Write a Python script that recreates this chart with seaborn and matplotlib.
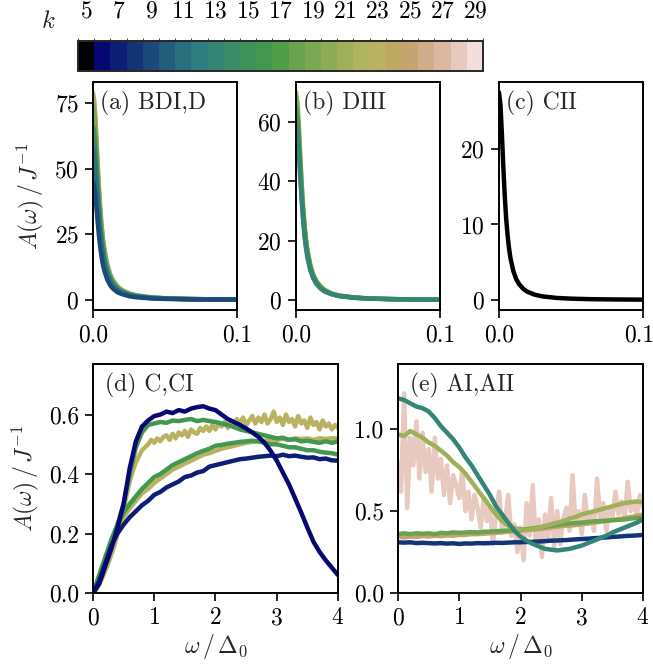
import numpy as np
import matplotlib
matplotlib.use("Agg")
import matplotlib.pyplot as plt
import matplotlib.transforms as mtrans
from matplotlib.colors import ListedColormap, BoundaryNorm
from matplotlib.cm import ScalarMappable
import seaborn as sns

# ---- data ----
k_values = list(range(5, 30))

# top row: small-omega peak, omega/Delta_0 from 0 to 0.1
x_top = [0, 0.001, 0.002, 0.003, 0.004, 0.005, 0.006, 0.007, 0.008, 0.010, 0.012,
         0.014, 0.017, 0.020, 0.025, 0.030, 0.040, 0.050, 0.065, 0.080, 0.100]

a_k25 = [79, 75.3, 66, 54.7, 44.2, 35.3, 28.4, 23.1, 19.0, 13.3, 9.7, 7.4, 5.2, 3.8, 2.5, 1.74, 0.99, 0.63, 0.38, 0.25, 0.16]
a_k21 = [77, 73.4, 64.3, 53.3, 43.0, 34.4, 27.7, 22.5, 18.5, 12.9, 9.5, 7.2, 5.0, 3.7, 2.4, 1.69, 0.96, 0.62, 0.37, 0.24, 0.16]
a_k19 = [74, 70.5, 61.8, 51.2, 41.4, 33.1, 26.6, 21.6, 17.8, 12.4, 9.1, 6.9, 4.8, 3.6, 2.3, 1.63, 0.93, 0.59, 0.35, 0.23, 0.15]
a_k15 = [66, 62.9, 55.1, 45.7, 36.9, 29.5, 23.8, 19.3, 15.8, 11.1, 8.1, 6.2, 4.3, 3.2, 2.1, 1.45, 0.83, 0.53, 0.31, 0.21, 0.13]
a_k13 = [61, 58.1, 50.9, 42.2, 34.1, 27.3, 22.0, 17.8, 14.6, 10.2, 7.5, 5.7, 4.0, 2.9, 1.9, 1.34, 0.76, 0.49, 0.29, 0.19, 0.12]
a_k11 = [57, 54.3, 47.6, 39.4, 31.9, 25.5, 20.5, 16.6, 13.7, 9.6, 7.0, 5.3, 3.7, 2.7, 1.8, 1.25, 0.71, 0.46, 0.27, 0.18, 0.12]
a_k9 = [45, 42.9, 37.6, 31.1, 25.2, 20.1, 16.2, 13.1, 10.8, 7.6, 5.5, 4.2, 2.9, 2.2, 1.4, 0.99, 0.56, 0.36, 0.21, 0.14, 0.09]

b_k21 = [70, 66.7, 58.5, 48.4, 39.1, 31.3, 25.2, 20.4, 16.8, 11.8, 8.6, 6.6, 4.6, 3.4, 2.2, 1.54, 0.88, 0.56, 0.33, 0.22, 0.14]
b_k19 = [68, 64.8, 56.8, 47.1, 38.0, 30.4, 24.5, 19.9, 16.3, 11.4, 8.4, 6.4, 4.5, 3.3, 2.1, 1.50, 0.85, 0.54, 0.32, 0.21, 0.14]
b_k17 = [65, 61.9, 54.3, 45.0, 36.3, 29.1, 23.4, 19.0, 15.6, 10.9, 8.0, 6.1, 4.3, 3.1, 2.0, 1.43, 0.81, 0.52, 0.31, 0.20, 0.13]
b_k15 = [62, 59.1, 51.8, 42.9, 34.7, 27.7, 22.3, 18.1, 14.9, 10.4, 7.6, 5.8, 4.1, 3.0, 1.9, 1.36, 0.78, 0.50, 0.30, 0.20, 0.13]
b_k13 = [59, 56.2, 49.3, 40.8, 33.0, 26.4, 21.2, 17.2, 14.2, 9.9, 7.3, 5.5, 3.9, 2.8, 1.9, 1.30, 0.74, 0.47, 0.28, 0.19, 0.12]

c_k5 = [27.5, 25.9, 22.0, 17.6, 13.75, 10.7, 8.5, 6.8, 5.5, 3.8, 2.75, 2.08, 1.44, 1.06, 0.69, 0.48, 0.27, 0.175, 0.10, 0.069, 0.044]

# bottom row: omega/Delta_0 from 0 to 4
x_bot = [round(0.1 * i, 2) for i in range(41)]
x_fine = [round(0.05 * i, 2) for i in range(81)]

d_k6 = [0.00, 0.03, 0.09, 0.15, 0.22, 0.30, 0.42, 0.51, 0.56, 0.58, 0.595, 0.60, 0.61, 0.605, 0.615,
        0.61, 0.62, 0.625, 0.628, 0.62, 0.615, 0.60, 0.585, 0.575, 0.565, 0.553, 0.54, 0.525, 0.505,
        0.478, 0.445, 0.405, 0.365, 0.318, 0.27, 0.22, 0.172, 0.138, 0.11, 0.085, 0.06]
d_k7 = [0.00, 0.04, 0.10, 0.16, 0.20, 0.23, 0.255, 0.275, 0.295, 0.31, 0.33, 0.34, 0.355, 0.365, 0.375,
        0.39, 0.395, 0.405, 0.41, 0.425, 0.43, 0.435, 0.44, 0.445, 0.45, 0.452, 0.455, 0.458, 0.46,
        0.462, 0.46, 0.465, 0.46, 0.462, 0.458, 0.455, 0.456, 0.45, 0.452, 0.446, 0.445]
d_k16 = [0.00, 0.05, 0.11, 0.17, 0.23, 0.30, 0.40, 0.49, 0.54, 0.565, 0.57, 0.575, 0.572, 0.58, 0.578,
         0.582, 0.585, 0.578, 0.582, 0.578, 0.575, 0.57, 0.565, 0.558, 0.55, 0.545, 0.54, 0.535, 0.53,
         0.525, 0.52, 0.522, 0.515, 0.517, 0.51, 0.512, 0.508, 0.505, 0.51, 0.505, 0.51]
d_k16b = [0.00, 0.06, 0.12, 0.18, 0.23, 0.27, 0.30, 0.325, 0.35, 0.37, 0.39, 0.40, 0.415, 0.43, 0.44,
          0.45, 0.46, 0.47, 0.478, 0.485, 0.495, 0.498, 0.502, 0.505, 0.508, 0.51, 0.512, 0.51, 0.505,
          0.50, 0.50, 0.495, 0.49, 0.49, 0.485, 0.48, 0.48, 0.475, 0.472, 0.47, 0.465]
d_k23b = [0.00, 0.05, 0.11, 0.17, 0.22, 0.255, 0.285, 0.31, 0.335, 0.35, 0.37, 0.385, 0.40, 0.415, 0.425,
          0.435, 0.445, 0.455, 0.465, 0.47, 0.478, 0.485, 0.49, 0.495, 0.50, 0.505, 0.508, 0.51, 0.512,
          0.515, 0.515, 0.518, 0.515, 0.52, 0.518, 0.52, 0.515, 0.52, 0.518, 0.52, 0.52]
d_k23 = [0.00, 0.01, 0.03, 0.05, 0.075, 0.10, 0.13, 0.16, 0.20, 0.24, 0.285, 0.33, 0.375, 0.41, 0.44,
         0.46, 0.48, 0.49, 0.50, 0.515, 0.505, 0.52, 0.51, 0.525, 0.53, 0.515, 0.535, 0.52, 0.54, 0.53,
         0.545, 0.525, 0.55, 0.54, 0.535, 0.555, 0.545, 0.56, 0.545, 0.565, 0.55, 0.57, 0.56, 0.575,
         0.555, 0.58, 0.565, 0.585, 0.57, 0.59, 0.565, 0.58, 0.595, 0.57, 0.59, 0.575, 0.60, 0.57,
         0.585, 0.61, 0.575, 0.59, 0.565, 0.60, 0.575, 0.585, 0.56, 0.595, 0.57, 0.58, 0.555, 0.59,
         0.565, 0.575, 0.55, 0.58, 0.56, 0.57, 0.55, 0.565, 0.555]

e_k28 = [0.80, 0.62, 1.22, 0.52, 0.95, 0.78, 1.05, 0.70, 0.98, 0.74, 0.88, 0.62, 0.95, 0.70, 0.82,
         0.60, 0.78, 0.55, 0.72, 0.66, 0.58, 0.75, 0.50, 0.62, 0.45, 0.60, 0.52, 0.40, 0.58, 0.44,
         0.52, 0.30, 0.48, 0.62, 0.38, 0.45, 0.60, 0.35, 0.42, 0.25, 0.40, 0.20, 0.55, 0.35, 0.66,
         0.30, 0.45, 0.22, 0.48, 0.34, 0.58, 0.28, 0.50, 0.30, 0.46, 0.52, 0.38, 0.72, 0.42, 0.50,
         0.36, 0.60, 0.42, 0.48, 0.38, 0.70, 0.45, 0.55, 0.38, 0.52, 0.46, 0.62, 0.48, 0.56, 0.45,
         0.68, 0.50, 0.55, 0.48, 0.60, 0.52]
e_k13 = [1.19, 1.18, 1.16, 1.14, 1.13, 1.11, 1.07, 1.02, 0.98, 0.94, 0.89, 0.83, 0.78, 0.72, 0.66,
         0.60, 0.53, 0.48, 0.43, 0.38, 0.345, 0.32, 0.30, 0.285, 0.27, 0.265, 0.26, 0.265, 0.27,
         0.28, 0.29, 0.305, 0.32, 0.335, 0.35, 0.37, 0.385, 0.40, 0.415, 0.43, 0.45]
e_k21 = [0.97, 0.96, 0.99, 0.97, 0.95, 0.92, 0.90, 0.87, 0.84, 0.80, 0.77, 0.73, 0.68, 0.63, 0.58,
         0.53, 0.48, 0.44, 0.41, 0.395, 0.39, 0.385, 0.39, 0.40, 0.41, 0.42, 0.43, 0.44, 0.455,
         0.465, 0.48, 0.49, 0.50, 0.51, 0.52, 0.53, 0.54, 0.55, 0.555, 0.56, 0.555]
e_k18 = [0.36, 0.365, 0.36, 0.365, 0.362, 0.365, 0.36, 0.368, 0.365, 0.37, 0.368, 0.37, 0.372, 0.37,
         0.375, 0.375, 0.378, 0.38, 0.382, 0.385, 0.388, 0.39, 0.395, 0.40, 0.405, 0.41, 0.415, 0.42,
         0.425, 0.428, 0.43, 0.435, 0.438, 0.44, 0.442, 0.445, 0.448, 0.45, 0.455, 0.458, 0.46]
e_k25 = [0.345, 0.34, 0.345, 0.342, 0.348, 0.345, 0.35, 0.348, 0.352, 0.35, 0.355, 0.355, 0.36, 0.36,
         0.362, 0.365, 0.368, 0.37, 0.375, 0.378, 0.38, 0.385, 0.388, 0.39, 0.395, 0.40, 0.405, 0.41,
         0.412, 0.415, 0.42, 0.425, 0.43, 0.435, 0.44, 0.445, 0.45, 0.458, 0.465, 0.472, 0.48]
e_k8 = [0.31, 0.308, 0.31, 0.305, 0.307, 0.305, 0.303, 0.305, 0.302, 0.304, 0.30, 0.303, 0.302, 0.305,
        0.304, 0.305, 0.307, 0.306, 0.308, 0.31, 0.31, 0.312, 0.313, 0.315, 0.317, 0.32, 0.321, 0.323,
        0.325, 0.328, 0.33, 0.332, 0.335, 0.337, 0.34, 0.343, 0.345, 0.348, 0.35, 0.352, 0.355]

# ---- style ----
sns.set_style("ticks")
plt.rcParams["font.family"] = "serif"
plt.rcParams["font.serif"] = ["cmr10", "DejaVu Serif"]
plt.rcParams["mathtext.fontset"] = "cm"
plt.rcParams["axes.formatter.use_mathtext"] = True
plt.rcParams["axes.unicode_minus"] = False
FS = 17
plt.rcParams["font.size"] = FS

cols = plt.get_cmap("gist_earth")(np.linspace(0, 1, 26))[:25]
kcmap = ListedColormap(cols)
def kc(k):
    return cols[k - 5]

fig = plt.figure(figsize=(6.53, 6.69), dpi=100)
W, H = 653, 669
def box(x0, y0, x1, y1):
    return [x0 / W, 1 - y1 / H, (x1 - x0) / W, (y1 - y0) / H]

cax = fig.add_axes(box(78, 41, 483, 71))
ax_a = fig.add_axes(box(93, 82, 237, 310))
ax_b = fig.add_axes(box(296, 82, 440, 310))
ax_c = fig.add_axes(box(499, 82, 643, 310))
ax_d = fig.add_axes(box(93, 364, 338, 593))
ax_e = fig.add_axes(box(398, 364, 643, 593))

LW = 3.2
def draw(ax, x, y, k):
    sns.lineplot(x=x, y=y, ax=ax, color=kc(k), lw=LW, estimator=None, sort=False)

for y, k in [(a_k25, 25), (a_k21, 21), (a_k19, 19), (a_k15, 15), (a_k13, 13), (a_k11, 11), (a_k9, 9)]:
    draw(ax_a, x_top, y, k)
for y, k in [(b_k21, 21), (b_k19, 19), (b_k17, 17), (b_k15, 15), (b_k13, 13)]:
    draw(ax_b, x_top, y, k)
draw(ax_c, x_top, c_k5, 5)

draw(ax_d, x_fine, d_k23, 23)
draw(ax_d, x_bot, d_k23b, 23)
draw(ax_d, x_bot, d_k16b, 16)
draw(ax_d, x_bot, d_k16, 16)
draw(ax_d, x_bot, d_k7, 7)
draw(ax_d, x_bot, d_k6, 6)

draw(ax_e, x_fine, e_k28, 28)
draw(ax_e, x_bot, e_k8, 8)
draw(ax_e, x_bot, e_k25, 25)
draw(ax_e, x_bot, e_k18, 18)
draw(ax_e, x_bot, e_k21, 21)
draw(ax_e, x_bot, e_k13, 13)

for ax in [ax_a, ax_b, ax_c, ax_d, ax_e]:
    for s in ax.spines.values():
        s.set_linewidth(1.4)
        s.set_color("black")
    ax.tick_params(direction="out", length=6, width=1.2, labelsize=FS, colors="black", pad=4)
    ax.set_xlabel("")
    ax.set_ylabel("")

for ax in [ax_a, ax_b, ax_c]:
    ax.set_xlim(0, 0.1)
    ax.set_xticks([0, 0.1])
    ax.set_xticklabels(["0.0", "0.1"])
ax_a.set_yticks([0, 25, 50, 75])
ax_b.set_yticks([0, 20, 40, 60])
ax_c.set_yticks([0, 10, 20])

# keep the last tick label of (c) inside the canvas
lbl = ax_c.get_xticklabels()[-1]
lbl.set_transform(lbl.get_transform() + mtrans.ScaledTranslation(-4 / 100, 0, fig.dpi_scale_trans))

for ax in [ax_d, ax_e]:
    ax.set_xlim(0, 4)
    ax.set_xticks([0, 1, 2, 3, 4])
    ax.set_xlabel(r"$\omega\,/\,\Delta_0$", fontsize=FS, labelpad=2)
ax_d.set_ylim(0, 0.77)
ax_d.set_yticks([0, 0.2, 0.4, 0.6])
ax_d.set_yticklabels(["0.0", "0.2", "0.4", "0.6"])
ax_e.set_ylim(0, 1.4)
ax_e.set_yticks([0, 0.5, 1.0])
ax_e.set_yticklabels(["0.0", "0.5", "1.0"])

ax_a.set_ylabel(r"$A(\omega)\,/\,J^{-1}$", fontsize=FS, labelpad=6)
ax_d.set_ylabel(r"$A(\omega)\,/\,J^{-1}$", fontsize=FS, labelpad=6)

for ax, lab in [(ax_a, "(a) BDI,D"), (ax_b, "(b) DIII"), (ax_c, "(c) CII"),
                (ax_d, "(d) C,CI"), (ax_e, "(e) AI,AII")]:
    ax.text(0.05, 0.96, lab, transform=ax.transAxes, ha="left", va="top", fontsize=FS)

norm = BoundaryNorm(np.arange(4.5, 30.5, 1), 25)
cb = fig.colorbar(ScalarMappable(norm=norm, cmap=kcmap), cax=cax, orientation="horizontal",
                  ticks=list(range(5, 30, 2)))
cb.outline.set_linewidth(1.4)
cax.xaxis.set_ticks_position("top")
cax.xaxis.set_label_position("top")
cax.tick_params(direction="in", length=7, width=1.0, labelsize=FS, pad=13, colors="black")
fig.text(48 / W, 1 - 22 / H, r"$k$", ha="center", va="center", fontsize=FS + 1)

fig.savefig("out.png", dpi=100)
